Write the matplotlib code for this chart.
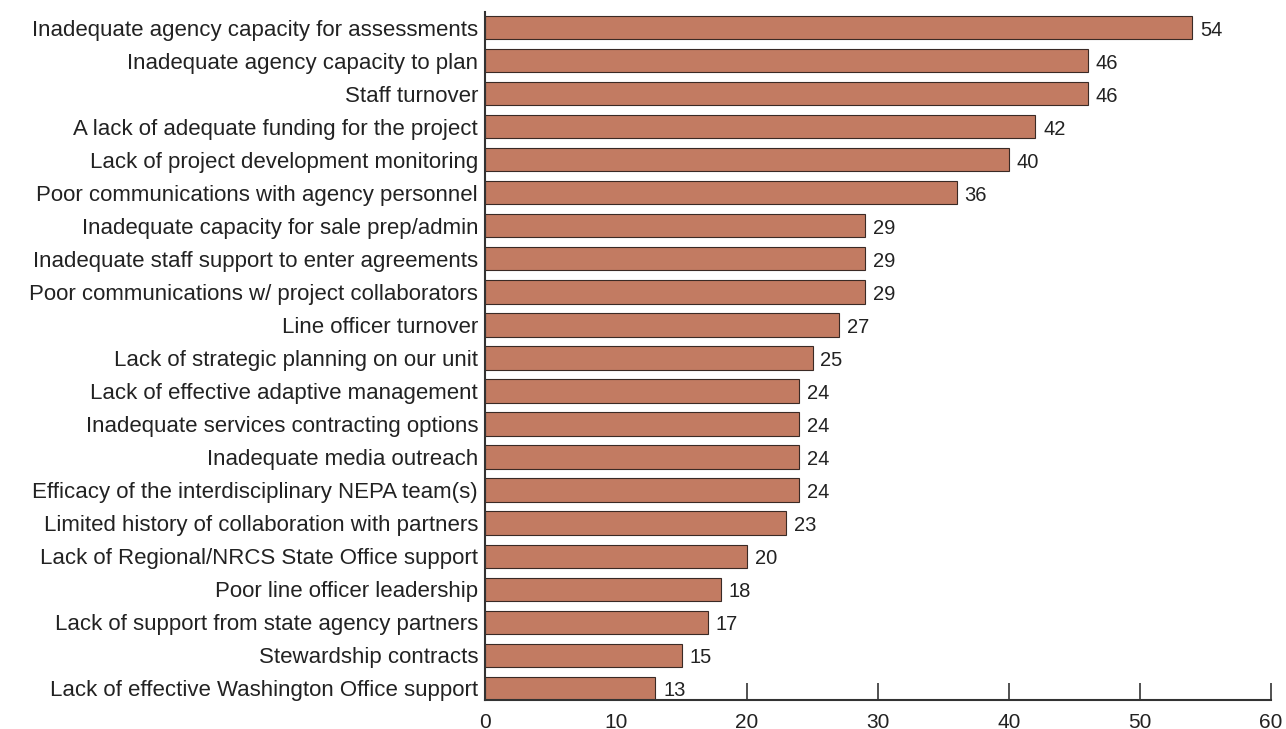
import matplotlib
matplotlib.use("Agg")
import matplotlib.pyplot as plt

categories = [
    "Inadequate agency capacity for assessments",
    "Inadequate agency capacity to plan",
    "Staff turnover",
    "A lack of adequate funding for the project",
    "Lack of project development monitoring",
    "Poor communications with agency personnel",
    "Inadequate capacity for sale prep/admin",
    "Inadequate staff support to enter agreements",
    "Poor communications w/ project collaborators",
    "Line officer turnover",
    "Lack of strategic planning on our unit",
    "Lack of effective adaptive management",
    "Inadequate services contracting options",
    "Inadequate media outreach",
    "Efficacy of the interdisciplinary NEPA team(s)",
    "Limited history of collaboration with partners",
    "Lack of Regional/NRCS State Office support",
    "Poor line officer leadership",
    "Lack of support from state agency partners",
    "Stewardship contracts",
    "Lack of effective Washington Office support",
]
values = [54, 46, 46, 42, 40, 36, 29, 29, 29, 27, 25, 24, 24, 24, 24, 23, 20, 18, 17, 15, 13]
xticks = [0, 10, 20, 30, 40, 50, 60]

plt.rcParams['font.family'] = ['Liberation Sans', 'DejaVu Sans']

fig = plt.figure(figsize=(12.86, 7.29), dpi=100)
ax = fig.add_axes([485/1286, 1 - 700/729, (1271-485)/1286, (700-12)/729])
ax.set_axisbelow(True)

n = len(categories)
ypos = list(range(n - 1, -1, -1))
ax.barh(ypos, values, height=0.7, color='#C27B62', edgecolor='#3a2a25', linewidth=0.8, zorder=2)
for y, v in zip(ypos, values):
    ax.text(v + 0.6, y - 0.08, str(v), va='center', ha='left', fontsize=14.5, color='#222222')

ax.set_yticks(ypos)
ax.set_yticklabels(categories, fontsize=16, color='#222222')
ax.tick_params(axis='y', length=0, pad=5)
ax.set_xlim(0, 60)
ax.set_ylim(-0.36, n - 1 + 0.48)
ax.set_xticks(xticks)
ax.set_xticklabels([str(t) for t in xticks], fontsize=15, color='#222222')
ax.tick_params(axis='x', direction='in', length=12, width=1.2, color='#333333', pad=9)
for s in ['top', 'right']:
    ax.spines[s].set_visible(False)
for s in ['left', 'bottom']:
    ax.spines[s].set_linewidth(1.5)
    ax.spines[s].set_color('#333333')
    ax.spines[s].set_zorder(3)

fig.savefig('out.png', dpi=100)
